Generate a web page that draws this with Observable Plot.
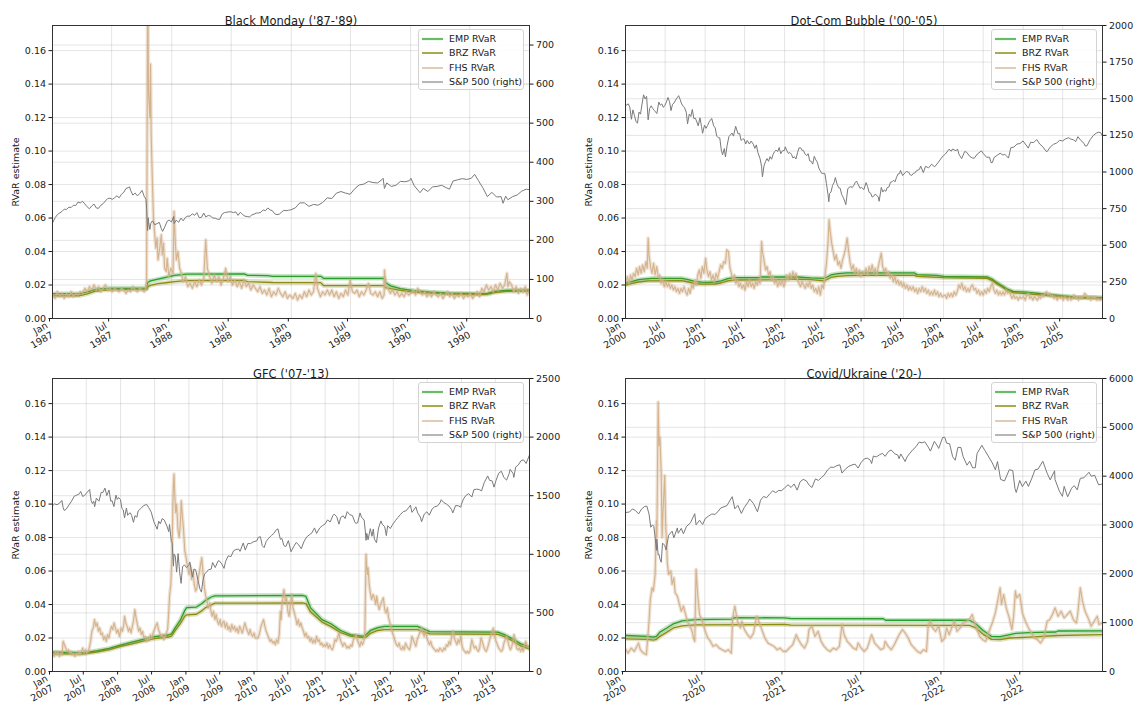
<!DOCTYPE html>
<html><head><meta charset="utf-8">
<script src="https://cdn.jsdelivr.net/npm/d3@7"></script>
<script src="https://cdn.jsdelivr.net/npm/@observablehq/plot@0.6"></script>
<style>
body{margin:0;background:#fff;}
#root{position:relative;width:1133px;height:709px;overflow:hidden;font-family:"DejaVu Sans",sans-serif;color:#1a1a1a;}
.panel{position:absolute;}
.legend{position:absolute;background:rgba(255,255,255,0.85);border:1px solid #d3d3d3;border-radius:3px;box-sizing:border-box;font-size:9.5px;}
.legend .row{position:absolute;left:0;height:12px;line-height:12px;white-space:nowrap;}
.legend svg{position:absolute;left:3px;top:1px;}
.legend span{position:absolute;left:30px;top:0;}
</style></head><body><div id="root"></div>
<script>
// ---------- shared ----------
const YMAX = 0.175;
const leftTicks = [0, 0.02, 0.04, 0.06, 0.08, 0.10, 0.12, 0.14, 0.16];
const monthNames = {0: "Jan", 6: "Jul"};
const seriesNames = ["EMP RVaR", "BRZ RVaR", "FHS RVaR", "S&P 500 (right)"];
const colors = {emp: "#2a9d2a", brz: "#8c8c12", fhs: "#d2b08a", spx: "#7a7a7a"};

// ---------- Panel 1: Black Monday ----------
const p1Title = "Black Monday ('87-'89)";
const p1RightTicks = [0,100,200,300,400,500,600,700];
const p1Spx = [["1987-01-02",246],["1987-01-09",258],["1987-01-16",266],["1987-01-23",270],["1987-01-30",274],["1987-02-06",280],["1987-02-13",279],["1987-02-20",285],["1987-02-27",284],["1987-03-06",290],["1987-03-13",289],["1987-03-20",298],["1987-03-27",296],["1987-04-03",300],["1987-04-10",293],["1987-04-17",286],["1987-04-24",281],["1987-05-01",288],["1987-05-08",293],["1987-05-15",283],["1987-05-22",282],["1987-05-29",290],["1987-06-05",294],["1987-06-12",301],["1987-06-19",307],["1987-06-26",308],["1987-07-03",305],["1987-07-10",309],["1987-07-17",314],["1987-07-24",309],["1987-07-31",318],["1987-08-07",323],["1987-08-14",333],["1987-08-21",335],["1987-08-25",337],["1987-08-28",328],["1987-09-04",316],["1987-09-11",321],["1987-09-18",314],["1987-09-25",320],["1987-10-02",328],["1987-10-09",312],["1987-10-14",305],["1987-10-16",282],["1987-10-19",225],["1987-10-20",236],["1987-10-21",258],["1987-10-22",248],["1987-10-26",228],["1987-10-29",244],["1987-11-03",250],["1987-11-10",240],["1987-11-17",243],["1987-11-24",246],["1987-11-30",230],["1987-12-04",223],["1987-12-11",235],["1987-12-18",249],["1987-12-24",252],["1987-12-31",247],["1988-01-07",261],["1988-01-08",243],["1988-01-15",252],["1988-01-22",246],["1988-01-29",257],["1988-02-05",250],["1988-02-12",259],["1988-02-19",262],["1988-02-26",262],["1988-03-04",268],["1988-03-11",264],["1988-03-18",271],["1988-03-25",258],["1988-04-01",259],["1988-04-08",270],["1988-04-14",260],["1988-04-22",264],["1988-04-29",262],["1988-05-06",257],["1988-05-13",257],["1988-05-20",254],["1988-05-27",254],["1988-06-03",267],["1988-06-10",271],["1988-06-17",272],["1988-06-24",273],["1988-07-01",273],["1988-07-08",271],["1988-07-15",273],["1988-07-22",264],["1988-07-29",272],["1988-08-05",266],["1988-08-12",262],["1988-08-19",261],["1988-08-26",260],["1988-09-02",265],["1988-09-09",267],["1988-09-16",270],["1988-09-23",270],["1988-09-30",272],["1988-10-07",278],["1988-10-14",276],["1988-10-21",283],["1988-10-28",278],["1988-11-04",276],["1988-11-11",268],["1988-11-18",266],["1988-11-25",267],["1988-12-02",272],["1988-12-09",277],["1988-12-16",276],["1988-12-23",277],["1988-12-30",278],["1989-01-13",283],["1989-01-27",296],["1989-02-10",296],["1989-02-24",287],["1989-03-10",292],["1989-03-24",290],["1989-04-07",297],["1989-04-21",309],["1989-05-05",307],["1989-05-19",321],["1989-06-02",325],["1989-06-16",321],["1989-06-30",318],["1989-07-14",332],["1989-07-28",342],["1989-08-11",344],["1989-08-25",351],["1989-09-08",348],["1989-09-22",347],["1989-10-06",356],["1989-10-09",359],["1989-10-13",333],["1989-10-20",347],["1989-11-03",338],["1989-11-17",341],["1989-12-01",351],["1989-12-15",350],["1989-12-29",353],["1990-01-02",359],["1990-01-12",340],["1990-01-26",326],["1990-01-30",322],["1990-02-09",333],["1990-02-23",325],["1990-03-09",337],["1990-03-23",338],["1990-04-06",341],["1990-04-20",335],["1990-04-30",331],["1990-05-11",352],["1990-05-25",355],["1990-06-08",358],["1990-06-22",356],["1990-07-06",359],["1990-07-16",369],["1990-07-27",354],["1990-08-03",344],["1990-08-10",335],["1990-08-24",312],["1990-09-07",323],["1990-09-21",311],["1990-10-05",312],["1990-10-11",295],["1990-10-19",313],["1990-10-26",304],["1990-11-09",312],["1990-11-23",316],["1990-12-07",326],["1990-12-21",331],["1990-12-31",330]];
const p1Fhs = [["1987-01-02",0.014],["1987-01-09",0.012],["1987-01-16",0.016],["1987-01-23",0.013],["1987-01-30",0.015],["1987-02-06",0.012],["1987-02-13",0.015],["1987-02-20",0.013],["1987-02-27",0.016],["1987-03-06",0.013],["1987-03-13",0.015],["1987-03-20",0.014],["1987-03-27",0.016],["1987-04-03",0.015],["1987-04-10",0.018],["1987-04-17",0.016],["1987-04-24",0.019],["1987-05-01",0.017],["1987-05-08",0.020],["1987-05-15",0.017],["1987-05-22",0.019],["1987-05-29",0.016],["1987-06-05",0.018],["1987-06-12",0.020],["1987-06-19",0.017],["1987-06-26",0.018],["1987-07-03",0.016],["1987-07-10",0.018],["1987-07-17",0.017],["1987-07-24",0.016],["1987-07-31",0.018],["1987-08-07",0.017],["1987-08-14",0.015],["1987-08-21",0.017],["1987-08-28",0.016],["1987-09-04",0.019],["1987-09-11",0.017],["1987-09-18",0.016],["1987-09-25",0.018],["1987-10-02",0.017],["1987-10-09",0.016],["1987-10-14",0.018],["1987-10-16",0.022],["1987-10-19",0.19],["1987-10-20",0.19],["1987-10-22",0.135],["1987-10-26",0.12],["1987-10-28",0.152],["1987-10-30",0.11],["1987-11-03",0.08],["1987-11-06",0.06],["1987-11-10",0.05],["1987-11-13",0.042],["1987-11-17",0.048],["1987-11-20",0.035],["1987-11-24",0.04],["1987-11-30",0.05],["1987-12-03",0.038],["1987-12-07",0.045],["1987-12-10",0.03],["1987-12-15",0.028],["1987-12-18",0.036],["1987-12-23",0.025],["1987-12-29",0.03],["1988-01-05",0.027],["1988-01-08",0.064],["1988-01-12",0.045],["1988-01-15",0.035],["1988-01-20",0.04],["1988-01-25",0.03],["1988-01-29",0.028],["1988-02-05",0.022],["1988-02-12",0.025],["1988-02-19",0.019],["1988-02-26",0.021],["1988-03-04",0.018],["1988-03-11",0.022],["1988-03-18",0.019],["1988-03-25",0.023],["1988-04-01",0.02],["1988-04-08",0.024],["1988-04-14",0.047],["1988-04-19",0.03],["1988-04-26",0.025],["1988-05-03",0.021],["1988-05-10",0.026],["1988-05-17",0.022],["1988-05-24",0.025],["1988-05-31",0.02],["1988-06-07",0.024],["1988-06-14",0.03],["1988-06-21",0.022],["1988-06-28",0.025],["1988-07-05",0.02],["1988-07-12",0.023],["1988-07-19",0.019],["1988-07-26",0.022],["1988-08-02",0.018],["1988-08-09",0.023],["1988-08-16",0.019],["1988-08-23",0.021],["1988-08-30",0.017],["1988-09-06",0.02],["1988-09-13",0.018],["1988-09-20",0.016],["1988-09-27",0.019],["1988-10-04",0.015],["1988-10-11",0.017],["1988-10-18",0.014],["1988-10-25",0.018],["1988-11-01",0.013],["1988-11-08",0.016],["1988-11-15",0.014],["1988-11-22",0.018],["1988-11-29",0.015],["1988-12-06",0.013],["1988-12-13",0.016],["1988-12-20",0.012],["1988-12-27",0.014],["1989-01-06",0.012],["1989-01-13",0.015],["1989-01-20",0.011],["1989-01-27",0.014],["1989-02-03",0.012],["1989-02-10",0.016],["1989-02-17",0.013],["1989-02-24",0.017],["1989-03-03",0.014],["1989-03-10",0.016],["1989-03-17",0.027],["1989-03-22",0.018],["1989-03-31",0.013],["1989-04-07",0.016],["1989-04-14",0.014],["1989-04-21",0.017],["1989-04-28",0.014],["1989-05-05",0.017],["1989-05-12",0.013],["1989-05-19",0.016],["1989-05-26",0.012],["1989-06-02",0.015],["1989-06-09",0.013],["1989-06-16",0.017],["1989-06-23",0.014],["1989-06-30",0.023],["1989-07-07",0.016],["1989-07-14",0.015],["1989-07-21",0.017],["1989-07-28",0.013],["1989-08-04",0.016],["1989-08-11",0.014],["1989-08-18",0.017],["1989-08-25",0.021],["1989-09-01",0.015],["1989-09-08",0.014],["1989-09-15",0.016],["1989-09-22",0.013],["1989-09-29",0.016],["1989-10-06",0.012],["1989-10-12",0.014],["1989-10-13",0.029],["1989-10-17",0.02],["1989-10-24",0.018],["1989-10-31",0.015],["1989-11-07",0.017],["1989-11-14",0.014],["1989-11-21",0.016],["1989-11-28",0.013],["1989-12-05",0.015],["1989-12-12",0.013],["1989-12-19",0.016],["1989-12-26",0.014],["1990-01-02",0.015],["1990-01-09",0.017],["1990-01-16",0.014],["1990-01-23",0.018],["1990-01-30",0.016],["1990-02-06",0.014],["1990-02-13",0.016],["1990-02-20",0.013],["1990-02-27",0.015],["1990-03-06",0.013],["1990-03-13",0.016],["1990-03-20",0.014],["1990-03-27",0.013],["1990-04-03",0.015],["1990-04-10",0.012],["1990-04-17",0.014],["1990-04-24",0.016],["1990-05-01",0.013],["1990-05-08",0.015],["1990-05-15",0.012],["1990-05-22",0.014],["1990-05-29",0.013],["1990-06-05",0.015],["1990-06-12",0.012],["1990-06-19",0.014],["1990-06-26",0.013],["1990-07-03",0.015],["1990-07-10",0.012],["1990-07-17",0.014],["1990-07-24",0.016],["1990-07-31",0.013],["1990-08-07",0.018],["1990-08-14",0.016],["1990-08-21",0.02],["1990-08-28",0.017],["1990-09-04",0.019],["1990-09-11",0.016],["1990-09-18",0.02],["1990-09-25",0.017],["1990-10-02",0.021],["1990-10-09",0.018],["1990-10-16",0.02],["1990-10-23",0.027],["1990-10-26",0.019],["1990-10-30",0.022],["1990-11-06",0.02],["1990-11-13",0.016],["1990-11-20",0.019],["1990-11-27",0.015],["1990-12-04",0.018],["1990-12-11",0.016],["1990-12-18",0.019],["1990-12-24",0.014],["1990-12-31",0.017]];
const p1Emp = [["1987-01-02",0.0148],["1987-03-25",0.0148],["1987-04-15",0.0158],["1987-05-10",0.0172],["1987-06-01",0.0178],["1987-07-01",0.018],["1987-10-16",0.0182],["1987-10-19",0.0215],["1987-10-28",0.0225],["1987-11-20",0.0235],["1987-12-20",0.0248],["1988-01-10",0.0258],["1988-02-15",0.0265],["1988-08-10",0.0266],["1988-08-20",0.0258],["1988-10-20",0.0256],["1988-11-05",0.0252],["1989-04-01",0.0252],["1989-04-10",0.0240],["1989-10-12",0.0240],["1989-10-16",0.0215],["1989-11-01",0.0195],["1989-12-01",0.0178],["1990-01-10",0.0166],["1990-03-01",0.0158],["1990-05-01",0.0152],["1990-08-01",0.0148],["1990-08-25",0.015],["1990-09-15",0.0162],["1990-10-20",0.0168],["1990-12-31",0.017]];
const p1Brz = [["1987-01-02",0.0136],["1987-03-25",0.0136],["1987-04-15",0.0146],["1987-05-10",0.0162],["1987-06-01",0.0168],["1987-07-01",0.0172],["1987-10-16",0.0174],["1987-10-19",0.0188],["1987-10-28",0.0198],["1987-11-20",0.0208],["1987-12-20",0.0215],["1988-01-10",0.022],["1988-02-15",0.0226],["1988-08-10",0.0227],["1988-08-20",0.022],["1988-11-05",0.0215],["1989-04-01",0.0214],["1989-04-10",0.0196],["1989-10-12",0.0196],["1989-10-16",0.0185],["1989-11-01",0.0178],["1989-12-01",0.0168],["1990-01-10",0.0158],["1990-03-01",0.0152],["1990-05-01",0.0146],["1990-08-01",0.0143],["1990-08-25",0.0145],["1990-09-15",0.0155],["1990-10-20",0.0162],["1990-12-31",0.0163]];

// ---------- Panel 2: Dot-Com ----------
const p2Title = "Dot-Com Bubble ('00-'05)";
const p2RightTicks = [0,250,500,750,1000,1250,1500,1750,2000];
const p2Spx = [["2000-01-03",1455],["2000-01-14",1465],["2000-01-21",1441],["2000-01-28",1360],["2000-02-04",1424],["2000-02-11",1387],["2000-02-18",1346],["2000-02-25",1333],["2000-03-03",1409],["2000-03-10",1395],["2000-03-17",1464],["2000-03-24",1527],["2000-03-31",1499],["2000-04-07",1516],["2000-04-14",1356],["2000-04-21",1434],["2000-04-28",1452],["2000-05-05",1433],["2000-05-12",1421],["2000-05-24",1399],["2000-06-02",1477],["2000-06-09",1456],["2000-06-16",1465],["2000-06-23",1441],["2000-06-30",1455],["2000-07-07",1478],["2000-07-14",1509],["2000-07-21",1481],["2000-07-28",1419],["2000-08-04",1462],["2000-08-11",1471],["2000-08-18",1491],["2000-08-25",1506],["2000-09-01",1521],["2000-09-08",1495],["2000-09-15",1465],["2000-09-22",1449],["2000-09-29",1437],["2000-10-06",1408],["2000-10-12",1329],["2000-10-20",1396],["2000-10-27",1379],["2000-11-03",1427],["2000-11-10",1365],["2000-11-17",1367],["2000-11-24",1341],["2000-11-30",1315],["2000-12-08",1370],["2000-12-15",1312],["2000-12-20",1264],["2000-12-29",1320],["2001-01-05",1298],["2001-01-12",1318],["2001-01-19",1342],["2001-01-31",1366],["2001-02-09",1315],["2001-02-16",1301],["2001-02-23",1245],["2001-03-02",1234],["2001-03-09",1233],["2001-03-16",1150],["2001-03-22",1117],["2001-03-30",1160],["2001-04-04",1103],["2001-04-12",1183],["2001-04-20",1242],["2001-04-27",1253],["2001-05-04",1266],["2001-05-11",1245],["2001-05-21",1312],["2001-06-01",1260],["2001-06-08",1264],["2001-06-15",1215],["2001-06-22",1225],["2001-06-29",1224],["2001-07-06",1191],["2001-07-13",1215],["2001-07-23",1191],["2001-07-31",1211],["2001-08-10",1190],["2001-08-17",1161],["2001-08-24",1185],["2001-08-31",1134],["2001-09-10",1092],["2001-09-17",1039],["2001-09-21",966],["2001-09-28",1041],["2001-10-05",1071],["2001-10-12",1092],["2001-10-19",1073],["2001-10-26",1105],["2001-11-02",1087],["2001-11-09",1120],["2001-11-16",1139],["2001-11-23",1150],["2001-11-30",1139],["2001-12-07",1167],["2001-12-14",1124],["2001-12-21",1144],["2001-12-31",1148],["2002-01-04",1172],["2002-01-11",1146],["2002-01-18",1127],["2002-01-25",1133],["2002-02-01",1122],["2002-02-08",1096],["2002-02-15",1104],["2002-02-22",1089],["2002-03-01",1131],["2002-03-08",1164],["2002-03-15",1166],["2002-03-22",1148],["2002-03-28",1147],["2002-04-05",1122],["2002-04-12",1111],["2002-04-19",1125],["2002-04-26",1076],["2002-05-03",1073],["2002-05-10",1054],["2002-05-17",1107],["2002-05-24",1083],["2002-05-31",1067],["2002-06-07",1027],["2002-06-14",1007],["2002-06-21",990],["2002-06-28",990],["2002-07-05",989],["2002-07-12",921],["2002-07-19",847],["2002-07-23",797],["2002-07-26",852],["2002-08-02",864],["2002-08-09",908],["2002-08-16",928],["2002-08-22",962],["2002-08-30",916],["2002-09-06",893],["2002-09-13",889],["2002-09-20",846],["2002-09-27",827],["2002-10-04",800],["2002-10-09",777],["2002-10-18",884],["2002-10-25",897],["2002-11-01",900],["2002-11-08",894],["2002-11-15",910],["2002-11-22",930],["2002-11-27",938],["2002-12-06",912],["2002-12-13",889],["2002-12-20",895],["2002-12-31",880],["2003-01-10",928],["2003-01-17",901],["2003-01-24",861],["2003-01-31",856],["2003-02-07",829],["2003-02-14",835],["2003-02-21",849],["2003-02-28",841],["2003-03-07",829],["2003-03-11",800],["2003-03-21",895],["2003-03-28",863],["2003-04-04",878],["2003-04-11",868],["2003-04-17",893],["2003-04-25",898],["2003-05-02",930],["2003-05-09",933],["2003-05-16",944],["2003-05-23",933],["2003-05-30",964],["2003-06-06",987],["2003-06-13",988],["2003-06-17",1011],["2003-06-27",976],["2003-07-03",986],["2003-07-14",1004],["2003-07-25",998],["2003-08-01",980],["2003-08-08",977],["2003-08-15",990],["2003-08-22",993],["2003-08-29",1008],["2003-09-12",1018],["2003-09-18",1040],["2003-09-30",996],["2003-10-10",1039],["2003-10-24",1028],["2003-11-07",1053],["2003-11-21",1035],["2003-12-05",1061],["2003-12-19",1089],["2003-12-31",1112],["2004-01-09",1122],["2004-01-26",1155],["2004-02-06",1142],["2004-02-11",1157],["2004-02-27",1145],["2004-03-05",1157],["2004-03-12",1120],["2004-03-24",1091],["2004-04-07",1140],["2004-04-16",1135],["2004-04-30",1107],["2004-05-12",1096],["2004-05-21",1094],["2004-06-04",1123],["2004-06-23",1144],["2004-07-02",1125],["2004-07-16",1101],["2004-07-30",1101],["2004-08-06",1064],["2004-08-12",1064],["2004-08-20",1099],["2004-09-03",1114],["2004-09-17",1128],["2004-09-30",1115],["2004-10-08",1122],["2004-10-25",1095],["2004-11-05",1166],["2004-11-19",1170],["2004-12-03",1191],["2004-12-17",1194],["2004-12-31",1212],["2005-01-14",1184],["2005-01-24",1163],["2005-02-04",1203],["2005-02-18",1201],["2005-03-04",1222],["2005-03-18",1190],["2005-04-01",1172],["2005-04-15",1143],["2005-04-20",1138],["2005-05-06",1172],["2005-05-20",1189],["2005-06-03",1197],["2005-06-17",1216],["2005-07-01",1212],["2005-07-15",1227],["2005-07-29",1234],["2005-08-05",1226],["2005-08-19",1220],["2005-08-30",1208],["2005-09-09",1241],["2005-09-23",1215],["2005-10-07",1196],["2005-10-13",1177],["2005-10-21",1179],["2005-11-04",1220],["2005-11-18",1248],["2005-12-02",1265],["2005-12-14",1272],["2005-12-23",1268],["2005-12-30",1248]];
const p2Fhs = [["2000-01-03",0.022],["2000-01-10",0.025],["2000-01-17",0.021],["2000-01-24",0.026],["2000-01-31",0.023],["2000-02-07",0.027],["2000-02-14",0.025],["2000-02-21",0.03],["2000-02-28",0.026],["2000-03-06",0.031],["2000-03-13",0.027],["2000-03-20",0.032],["2000-03-27",0.028],["2000-04-04",0.034],["2000-04-10",0.03],["2000-04-14",0.048],["2000-04-18",0.038],["2000-04-25",0.031],["2000-05-02",0.027],["2000-05-09",0.033],["2000-05-16",0.026],["2000-05-23",0.031],["2000-05-30",0.025],["2000-06-06",0.026],["2000-06-13",0.021],["2000-06-20",0.023],["2000-06-27",0.019],["2000-07-04",0.022],["2000-07-11",0.019],["2000-07-18",0.021],["2000-07-25",0.018],["2000-08-01",0.02],["2000-08-08",0.017],["2000-08-15",0.019],["2000-08-22",0.016],["2000-08-29",0.018],["2000-09-05",0.015],["2000-09-12",0.018],["2000-09-19",0.016],["2000-09-26",0.019],["2000-10-03",0.016],["2000-10-10",0.014],["2000-10-17",0.018],["2000-10-24",0.015],["2000-10-31",0.02],["2000-11-07",0.018],["2000-11-14",0.023],["2000-11-21",0.02],["2000-11-28",0.026],["2000-12-05",0.029],["2000-12-12",0.024],["2000-12-19",0.031],["2000-12-26",0.027],["2001-01-03",0.036],["2001-01-09",0.029],["2001-01-16",0.025],["2001-01-23",0.028],["2001-01-30",0.023],["2001-02-06",0.026],["2001-02-13",0.022],["2001-02-20",0.027],["2001-02-27",0.024],["2001-03-06",0.028],["2001-03-13",0.032],["2001-03-20",0.03],["2001-03-27",0.034],["2001-04-04",0.033],["2001-04-10",0.041],["2001-04-18",0.04],["2001-04-24",0.031],["2001-05-01",0.027],["2001-05-08",0.023],["2001-05-15",0.026],["2001-05-22",0.021],["2001-05-29",0.023],["2001-06-05",0.019],["2001-06-12",0.021],["2001-06-19",0.018],["2001-06-26",0.02],["2001-07-03",0.017],["2001-07-10",0.022],["2001-07-17",0.019],["2001-07-24",0.023],["2001-07-31",0.019],["2001-08-07",0.021],["2001-08-14",0.018],["2001-08-21",0.022],["2001-08-28",0.02],["2001-09-04",0.023],["2001-09-10",0.021],["2001-09-17",0.046],["2001-09-21",0.04],["2001-09-28",0.035],["2001-10-05",0.029],["2001-10-12",0.031],["2001-10-19",0.026],["2001-10-26",0.028],["2001-11-02",0.023],["2001-11-09",0.025],["2001-11-16",0.021],["2001-11-23",0.023],["2001-11-30",0.019],["2001-12-07",0.022],["2001-12-14",0.02],["2001-12-21",0.023],["2001-12-28",0.019],["2002-01-04",0.022],["2002-01-11",0.026],["2002-01-18",0.023],["2002-01-25",0.027],["2002-02-01",0.024],["2002-02-08",0.028],["2002-02-15",0.025],["2002-02-22",0.027],["2002-03-01",0.023],["2002-03-08",0.021],["2002-03-15",0.019],["2002-03-22",0.022],["2002-03-29",0.02],["2002-04-05",0.018],["2002-04-12",0.021],["2002-04-19",0.019],["2002-04-26",0.022],["2002-05-03",0.018],["2002-05-10",0.02],["2002-05-17",0.016],["2002-05-24",0.018],["2002-05-31",0.015],["2002-06-07",0.019],["2002-06-14",0.014],["2002-06-21",0.02],["2002-06-28",0.018],["2002-07-05",0.025],["2002-07-12",0.033],["2002-07-19",0.045],["2002-07-24",0.059],["2002-07-29",0.052],["2002-08-05",0.045],["2002-08-12",0.04],["2002-08-19",0.035],["2002-08-26",0.038],["2002-09-03",0.032],["2002-09-10",0.034],["2002-09-17",0.03],["2002-09-24",0.035],["2002-10-01",0.038],["2002-10-08",0.042],["2002-10-15",0.048],["2002-10-22",0.04],["2002-10-29",0.033],["2002-11-05",0.029],["2002-11-12",0.032],["2002-11-19",0.027],["2002-11-26",0.03],["2002-12-03",0.026],["2002-12-10",0.029],["2002-12-17",0.025],["2002-12-24",0.028],["2003-01-03",0.027],["2003-01-10",0.03],["2003-01-17",0.026],["2003-01-24",0.031],["2003-01-31",0.028],["2003-02-07",0.032],["2003-02-14",0.027],["2003-02-21",0.03],["2003-02-28",0.026],["2003-03-07",0.031],["2003-03-14",0.035],["2003-03-21",0.039],["2003-03-27",0.031],["2003-04-03",0.028],["2003-04-10",0.03],["2003-04-17",0.026],["2003-04-24",0.028],["2003-05-01",0.024],["2003-05-08",0.026],["2003-05-15",0.022],["2003-05-22",0.025],["2003-05-29",0.021],["2003-06-05",0.023],["2003-06-12",0.02],["2003-06-19",0.022],["2003-06-26",0.019],["2003-07-03",0.021],["2003-07-10",0.018],["2003-07-17",0.02],["2003-07-24",0.017],["2003-07-31",0.019],["2003-08-07",0.017],["2003-08-14",0.019],["2003-08-21",0.016],["2003-08-28",0.018],["2003-09-04",0.015],["2003-09-11",0.018],["2003-09-18",0.016],["2003-09-25",0.019],["2003-10-02",0.016],["2003-10-09",0.018],["2003-10-16",0.015],["2003-10-23",0.017],["2003-10-30",0.014],["2003-11-06",0.016],["2003-11-13",0.014],["2003-11-20",0.017],["2003-11-27",0.014],["2003-12-04",0.016],["2003-12-11",0.013],["2003-12-18",0.015],["2003-12-25",0.013],["2004-01-08",0.014],["2004-01-15",0.012],["2004-01-22",0.015],["2004-01-29",0.013],["2004-02-05",0.015],["2004-02-12",0.013],["2004-02-19",0.016],["2004-02-26",0.014],["2004-03-04",0.016],["2004-03-11",0.02],["2004-03-18",0.018],["2004-03-25",0.021],["2004-04-01",0.017],["2004-04-08",0.019],["2004-04-15",0.016],["2004-04-22",0.018],["2004-04-29",0.016],["2004-05-06",0.019],["2004-05-13",0.02],["2004-05-20",0.017],["2004-05-27",0.018],["2004-06-03",0.015],["2004-06-10",0.017],["2004-06-17",0.014],["2004-06-24",0.016],["2004-07-01",0.014],["2004-07-08",0.017],["2004-07-15",0.015],["2004-07-22",0.018],["2004-07-29",0.016],["2004-08-05",0.019],["2004-08-12",0.021],["2004-08-19",0.017],["2004-08-26",0.015],["2004-09-02",0.017],["2004-09-09",0.014],["2004-09-16",0.016],["2004-09-23",0.014],["2004-09-30",0.016],["2004-10-07",0.014],["2004-10-14",0.017],["2004-10-21",0.015],["2004-10-28",0.016],["2004-11-04",0.014],["2004-11-11",0.012],["2004-11-18",0.014],["2004-11-25",0.012],["2004-12-02",0.013],["2004-12-09",0.011],["2004-12-16",0.013],["2004-12-23",0.012],["2005-01-03",0.013],["2005-01-10",0.011],["2005-01-17",0.014],["2005-01-24",0.015],["2005-01-31",0.012],["2005-02-07",0.013],["2005-02-14",0.011],["2005-02-21",0.013],["2005-02-28",0.012],["2005-03-07",0.011],["2005-03-14",0.013],["2005-03-21",0.012],["2005-03-28",0.014],["2005-04-04",0.013],["2005-04-11",0.015],["2005-04-18",0.016],["2005-04-25",0.014],["2005-05-02",0.015],["2005-05-09",0.013],["2005-05-16",0.014],["2005-05-23",0.012],["2005-05-30",0.013],["2005-06-06",0.011],["2005-06-13",0.013],["2005-06-20",0.012],["2005-06-27",0.013],["2005-07-04",0.011],["2005-07-11",0.013],["2005-07-18",0.012],["2005-07-25",0.011],["2005-08-01",0.013],["2005-08-08",0.011],["2005-08-15",0.012],["2005-08-22",0.014],["2005-08-29",0.012],["2005-09-05",0.013],["2005-09-12",0.011],["2005-09-19",0.013],["2005-09-26",0.012],["2005-10-03",0.013],["2005-10-10",0.015],["2005-10-17",0.014],["2005-10-24",0.012],["2005-10-31",0.013],["2005-11-07",0.011],["2005-11-14",0.013],["2005-11-21",0.012],["2005-11-28",0.013],["2005-12-05",0.011],["2005-12-12",0.012],["2005-12-19",0.011],["2005-12-30",0.012]];
const p2Emp = [["2000-01-03",0.0212],["2000-02-01",0.0222],["2000-03-01",0.0232],["2000-04-15",0.0238],["2000-05-01",0.024],["2000-09-15",0.024],["2000-10-15",0.0232],["2000-11-15",0.0222],["2000-12-15",0.0217],["2001-01-15",0.0216],["2001-02-15",0.0218],["2001-03-15",0.0225],["2001-04-15",0.0238],["2001-05-15",0.0244],["2001-09-10",0.0245],["2001-09-17",0.0248],["2002-01-15",0.0249],["2002-03-01",0.0248],["2002-05-01",0.0243],["2002-06-30",0.024],["2002-07-15",0.0248],["2002-08-01",0.026],["2002-09-01",0.0268],["2002-10-15",0.0272],["2003-01-15",0.0273],["2003-08-20",0.0272],["2003-09-01",0.0262],["2003-12-01",0.0258],["2004-01-01",0.0252],["2004-07-20",0.0248],["2004-08-10",0.0235],["2004-09-01",0.0215],["2004-09-25",0.0195],["2004-10-20",0.0175],["2004-11-15",0.0162],["2005-01-15",0.0157],["2005-04-01",0.0147],["2005-07-01",0.0135],["2005-09-01",0.0128],["2005-12-30",0.0125]];
const p2Brz = [["2000-01-03",0.0200],["2000-02-01",0.021],["2000-03-01",0.0218],["2000-04-15",0.0225],["2000-09-15",0.0226],["2000-10-15",0.0218],["2000-11-15",0.0208],["2000-12-15",0.0205],["2001-02-15",0.0206],["2001-03-15",0.0212],["2001-04-15",0.0225],["2001-05-15",0.023],["2001-12-31",0.0232],["2002-01-15",0.0236],["2002-05-01",0.0232],["2002-06-30",0.0225],["2002-07-15",0.0233],["2002-08-01",0.0245],["2002-09-01",0.0252],["2002-10-15",0.0256],["2003-01-15",0.0258],["2003-08-20",0.0258],["2003-09-01",0.0252],["2004-01-01",0.0244],["2004-07-20",0.024],["2004-08-10",0.0228],["2004-09-01",0.0208],["2004-09-25",0.019],["2004-10-20",0.0168],["2004-11-15",0.0155],["2005-01-15",0.0148],["2005-04-01",0.014],["2005-07-01",0.013],["2005-09-01",0.0124],["2005-12-30",0.0121]];

// ---------- Panel 3: GFC ----------
const p3Title = "GFC ('07-'13)";
const p3RightTicks = [0,500,1000,1500,2000,2500];
const p3Spx = [["2007-01-03",1417],["2007-01-12",1430],["2007-01-26",1423],["2007-02-09",1438],["2007-02-20",1460],["2007-02-27",1399],["2007-03-05",1374],["2007-03-16",1386],["2007-03-30",1421],["2007-04-13",1453],["2007-04-27",1495],["2007-05-11",1505],["2007-05-25",1516],["2007-06-01",1536],["2007-06-12",1493],["2007-06-22",1503],["2007-07-06",1530],["2007-07-19",1553],["2007-07-27",1459],["2007-08-03",1433],["2007-08-10",1453],["2007-08-15",1406],["2007-08-24",1479],["2007-09-07",1453],["2007-09-19",1529],["2007-09-28",1527],["2007-10-09",1565],["2007-10-19",1501],["2007-10-31",1549],["2007-11-09",1453],["2007-11-16",1458],["2007-11-26",1407],["2007-12-07",1505],["2007-12-14",1468],["2007-12-21",1484],["2007-12-31",1468],["2008-01-08",1390],["2008-01-15",1380],["2008-01-22",1310],["2008-02-01",1395],["2008-02-08",1332],["2008-02-15",1349],["2008-02-22",1353],["2008-02-29",1331],["2008-03-10",1273],["2008-03-18",1330],["2008-03-28",1316],["2008-04-04",1370],["2008-04-18",1390],["2008-05-02",1414],["2008-05-19",1426],["2008-05-30",1400],["2008-06-13",1360],["2008-06-27",1278],["2008-07-15",1214],["2008-07-23",1282],["2008-08-01",1260],["2008-08-11",1305],["2008-08-22",1292],["2008-09-05",1242],["2008-09-15",1193],["2008-09-19",1255],["2008-09-29",1106],["2008-10-03",1099],["2008-10-10",899],["2008-10-13",1003],["2008-10-20",985],["2008-10-27",848],["2008-11-04",1006],["2008-11-12",852],["2008-11-20",752],["2008-11-28",896],["2008-12-08",909],["2008-12-19",887],["2008-12-31",903],["2009-01-06",935],["2009-01-20",805],["2009-01-28",874],["2009-02-06",869],["2009-02-17",789],["2009-03-02",700],["2009-03-09",677],["2009-03-17",778],["2009-03-26",832],["2009-04-03",843],["2009-04-17",870],["2009-04-30",873],["2009-05-08",930],["2009-05-22",887],["2009-06-05",940],["2009-06-12",946],["2009-06-26",918],["2009-07-08",880],["2009-07-17",941],["2009-07-31",987],["2009-08-14",980],["2009-08-28",1029],["2009-09-11",1042],["2009-09-25",1044],["2009-10-02",1025],["2009-10-19",1097],["2009-10-30",1036],["2009-11-13",1093],["2009-11-27",1091],["2009-12-11",1106],["2009-12-31",1115],["2010-01-08",1145],["2010-01-19",1150],["2010-01-29",1074],["2010-02-08",1057],["2010-02-19",1109],["2010-03-05",1138],["2010-03-19",1160],["2010-04-01",1178],["2010-04-15",1211],["2010-04-23",1217],["2010-05-06",1128],["2010-05-14",1136],["2010-05-25",1074],["2010-06-04",1065],["2010-06-18",1117],["2010-07-02",1022],["2010-07-16",1065],["2010-07-30",1101],["2010-08-13",1079],["2010-08-26",1047],["2010-09-10",1110],["2010-09-24",1148],["2010-10-08",1166],["2010-10-22",1183],["2010-11-05",1225],["2010-11-16",1178],["2010-12-03",1225],["2010-12-17",1244],["2010-12-31",1258],["2011-01-14",1293],["2011-01-28",1276],["2011-02-11",1329],["2011-02-18",1343],["2011-03-04",1321],["2011-03-16",1257],["2011-03-25",1314],["2011-04-08",1328],["2011-04-18",1305],["2011-04-29",1364],["2011-05-13",1338],["2011-05-27",1331],["2011-06-10",1271],["2011-06-15",1265],["2011-06-24",1268],["2011-07-07",1353],["2011-07-15",1316],["2011-07-29",1292],["2011-08-04",1200],["2011-08-08",1119],["2011-08-12",1179],["2011-08-19",1124],["2011-08-31",1219],["2011-09-09",1154],["2011-09-16",1216],["2011-09-22",1129],["2011-10-03",1099],["2011-10-14",1225],["2011-10-27",1285],["2011-11-04",1253],["2011-11-16",1237],["2011-11-25",1159],["2011-12-02",1244],["2011-12-16",1220],["2011-12-30",1258],["2012-01-13",1289],["2012-01-27",1316],["2012-02-10",1342],["2012-02-24",1365],["2012-03-09",1370],["2012-03-23",1397],["2012-04-02",1419],["2012-04-10",1358],["2012-04-20",1378],["2012-05-01",1405],["2012-05-11",1353],["2012-05-25",1318],["2012-06-01",1278],["2012-06-15",1343],["2012-06-29",1362],["2012-07-12",1334],["2012-07-27",1386],["2012-08-10",1406],["2012-08-24",1411],["2012-09-07",1438],["2012-09-14",1466],["2012-09-28",1441],["2012-10-12",1428],["2012-10-26",1411],["2012-11-09",1380],["2012-11-15",1353],["2012-11-30",1416],["2012-12-14",1414],["2012-12-28",1402],["2012-12-31",1426],["2013-01-11",1472],["2013-01-25",1503],["2013-02-08",1518],["2013-02-25",1488],["2013-03-08",1551],["2013-03-22",1556],["2013-04-05",1553],["2013-04-18",1541],["2013-05-03",1614],["2013-05-21",1669],["2013-05-31",1631],["2013-06-14",1626],["2013-06-24",1573],["2013-07-05",1632],["2013-07-19",1692],["2013-08-02",1709],["2013-08-16",1655],["2013-08-30",1633],["2013-09-13",1688],["2013-09-18",1725],["2013-10-04",1690],["2013-10-08",1656],["2013-10-18",1745],["2013-11-01",1762],["2013-11-15",1798],["2013-11-29",1806],["2013-12-13",1775],["2013-12-31",1848]];
const p3Fhs = [["2007-01-03",0.011],["2007-01-10",0.009],["2007-01-17",0.012],["2007-01-24",0.01],["2007-01-31",0.012],["2007-02-07",0.009],["2007-02-14",0.011],["2007-02-21",0.01],["2007-02-27",0.018],["2007-03-06",0.016],["2007-03-13",0.014],["2007-03-20",0.012],["2007-03-27",0.013],["2007-04-03",0.011],["2007-04-10",0.012],["2007-04-17",0.01],["2007-04-24",0.011],["2007-05-01",0.009],["2007-05-08",0.011],["2007-05-15",0.01],["2007-05-22",0.012],["2007-05-29",0.01],["2007-06-05",0.012],["2007-06-12",0.014],["2007-06-19",0.011],["2007-06-26",0.013],["2007-07-03",0.011],["2007-07-10",0.012],["2007-07-17",0.014],["2007-07-24",0.018],["2007-07-31",0.024],["2007-08-07",0.026],["2007-08-14",0.031],["2007-08-21",0.027],["2007-08-28",0.029],["2007-09-04",0.024],["2007-09-11",0.026],["2007-09-18",0.022],["2007-09-25",0.023],["2007-10-02",0.019],["2007-10-09",0.021],["2007-10-16",0.018],["2007-10-23",0.022],["2007-10-30",0.02],["2007-11-06",0.024],["2007-11-13",0.027],["2007-11-20",0.025],["2007-11-27",0.029],["2007-12-04",0.026],["2007-12-11",0.023],["2007-12-18",0.025],["2007-12-26",0.021],["2008-01-04",0.026],["2008-01-11",0.024],["2008-01-18",0.028],["2008-01-22",0.033],["2008-01-29",0.029],["2008-02-05",0.027],["2008-02-12",0.024],["2008-02-19",0.026],["2008-02-26",0.023],["2008-03-04",0.027],["2008-03-11",0.031],["2008-03-17",0.037],["2008-03-24",0.032],["2008-03-31",0.028],["2008-04-07",0.024],["2008-04-14",0.026],["2008-04-21",0.022],["2008-04-28",0.024],["2008-05-05",0.02],["2008-05-12",0.021],["2008-05-19",0.018],["2008-05-26",0.02],["2008-06-02",0.019],["2008-06-09",0.022],["2008-06-16",0.02],["2008-06-23",0.023],["2008-06-30",0.025],["2008-07-07",0.027],["2008-07-15",0.029],["2008-07-22",0.025],["2008-07-29",0.023],["2008-08-05",0.021],["2008-08-12",0.022],["2008-08-19",0.019],["2008-08-26",0.021],["2008-09-02",0.023],["2008-09-09",0.025],["2008-09-15",0.036],["2008-09-19",0.045],["2008-09-26",0.052],["2008-09-29",0.06],["2008-10-03",0.07],["2008-10-07",0.1],["2008-10-10",0.112],["2008-10-13",0.118],["2008-10-16",0.108],["2008-10-22",0.095],["2008-10-27",0.1],["2008-11-03",0.085],["2008-11-10",0.08],["2008-11-17",0.09],["2008-11-21",0.102],["2008-11-26",0.094],["2008-12-03",0.085],["2008-12-10",0.072],["2008-12-17",0.068],["2008-12-24",0.063],["2009-01-02",0.058],["2009-01-09",0.063],["2009-01-16",0.055],["2009-01-23",0.06],["2009-01-30",0.052],["2009-02-06",0.048],["2009-02-13",0.05],["2009-02-20",0.056],["2009-02-27",0.06],["2009-03-06",0.065],["2009-03-11",0.068],["2009-03-18",0.058],["2009-03-25",0.05],["2009-04-01",0.045],["2009-04-08",0.042],["2009-04-15",0.038],["2009-04-22",0.041],["2009-04-29",0.036],["2009-05-06",0.033],["2009-05-13",0.036],["2009-05-20",0.031],["2009-05-27",0.034],["2009-06-03",0.03],["2009-06-10",0.028],["2009-06-17",0.031],["2009-06-24",0.027],["2009-07-01",0.029],["2009-07-08",0.03],["2009-07-15",0.026],["2009-07-22",0.029],["2009-07-29",0.025],["2009-08-05",0.027],["2009-08-12",0.024],["2009-08-19",0.028],["2009-08-26",0.025],["2009-09-02",0.027],["2009-09-09",0.024],["2009-09-16",0.026],["2009-09-23",0.023],["2009-09-30",0.027],["2009-10-07",0.025],["2009-10-14",0.023],["2009-10-21",0.026],["2009-10-28",0.029],["2009-11-04",0.026],["2009-11-11",0.024],["2009-11-18",0.022],["2009-11-25",0.025],["2009-12-02",0.022],["2009-12-09",0.021],["2009-12-16",0.023],["2009-12-23",0.02],["2010-01-06",0.02],["2010-01-13",0.022],["2010-01-22",0.027],["2010-01-29",0.029],["2010-02-05",0.031],["2010-02-12",0.027],["2010-02-19",0.024],["2010-02-26",0.022],["2010-03-05",0.02],["2010-03-12",0.018],["2010-03-19",0.019],["2010-03-26",0.017],["2010-04-02",0.018],["2010-04-09",0.016],["2010-04-16",0.019],["2010-04-23",0.017],["2010-04-30",0.022],["2010-05-06",0.036],["2010-05-10",0.031],["2010-05-14",0.038],["2010-05-20",0.045],["2010-05-25",0.049],["2010-06-01",0.042],["2010-06-08",0.044],["2010-06-15",0.036],["2010-06-22",0.033],["2010-06-29",0.04],["2010-07-06",0.046],["2010-07-13",0.038],["2010-07-20",0.035],["2010-07-27",0.032],["2010-08-03",0.028],["2010-08-10",0.031],["2010-08-17",0.027],["2010-08-24",0.029],["2010-08-31",0.026],["2010-09-07",0.024],["2010-09-14",0.021],["2010-09-21",0.023],["2010-09-28",0.02],["2010-10-05",0.021],["2010-10-12",0.018],["2010-10-19",0.02],["2010-10-26",0.017],["2010-11-02",0.019],["2010-11-09",0.017],["2010-11-16",0.021],["2010-11-23",0.018],["2010-11-30",0.019],["2010-12-07",0.016],["2010-12-14",0.017],["2010-12-21",0.015],["2010-12-28",0.016],["2011-01-04",0.015],["2011-01-11",0.017],["2011-01-18",0.014],["2011-01-25",0.016],["2011-02-01",0.014],["2011-02-08",0.013],["2011-02-15",0.015],["2011-02-22",0.019],["2011-03-01",0.018],["2011-03-08",0.02],["2011-03-16",0.023],["2011-03-23",0.019],["2011-03-30",0.017],["2011-04-06",0.015],["2011-04-13",0.017],["2011-04-20",0.016],["2011-04-27",0.014],["2011-05-04",0.015],["2011-05-11",0.014],["2011-05-18",0.016],["2011-05-25",0.015],["2011-06-01",0.019],["2011-06-08",0.02],["2011-06-15",0.022],["2011-06-22",0.019],["2011-06-29",0.017],["2011-07-06",0.015],["2011-07-13",0.018],["2011-07-20",0.016],["2011-07-27",0.018],["2011-08-02",0.024],["2011-08-04",0.04],["2011-08-08",0.07],["2011-08-11",0.064],["2011-08-16",0.058],["2011-08-19",0.062],["2011-08-25",0.052],["2011-08-31",0.047],["2011-09-07",0.043],["2011-09-14",0.046],["2011-09-22",0.044],["2011-09-29",0.04],["2011-10-04",0.045],["2011-10-11",0.04],["2011-10-18",0.037],["2011-10-25",0.04],["2011-11-01",0.042],["2011-11-09",0.044],["2011-11-16",0.037],["2011-11-23",0.035],["2011-11-30",0.038],["2011-12-07",0.032],["2011-12-14",0.029],["2011-12-21",0.026],["2011-12-28",0.023],["2012-01-04",0.021],["2012-01-11",0.018],["2012-01-18",0.016],["2012-01-25",0.015],["2012-02-01",0.017],["2012-02-08",0.014],["2012-02-15",0.013],["2012-02-22",0.015],["2012-02-29",0.013],["2012-03-07",0.017],["2012-03-14",0.015],["2012-03-21",0.014],["2012-03-28",0.013],["2012-04-04",0.016],["2012-04-10",0.021],["2012-04-17",0.019],["2012-04-24",0.017],["2012-05-01",0.015],["2012-05-08",0.019],["2012-05-15",0.021],["2012-05-22",0.023],["2012-06-01",0.026],["2012-06-08",0.023],["2012-06-15",0.021],["2012-06-22",0.024],["2012-06-29",0.02],["2012-07-06",0.018],["2012-07-13",0.016],["2012-07-20",0.018],["2012-07-27",0.015],["2012-08-03",0.014],["2012-08-10",0.013],["2012-08-17",0.012],["2012-08-24",0.013],["2012-08-31",0.012],["2012-09-07",0.014],["2012-09-14",0.013],["2012-09-21",0.012],["2012-09-28",0.014],["2012-10-05",0.013],["2012-10-12",0.016],["2012-10-19",0.015],["2012-10-26",0.018],["2012-11-02",0.016],["2012-11-09",0.021],["2012-11-16",0.024],["2012-11-23",0.02],["2012-11-30",0.018],["2012-12-07",0.016],["2012-12-14",0.019],["2012-12-21",0.017],["2012-12-28",0.021],["2013-01-04",0.015],["2013-01-11",0.013],["2013-01-18",0.012],["2013-01-25",0.011],["2013-02-01",0.012],["2013-02-08",0.011],["2013-02-15",0.012],["2013-02-25",0.019],["2013-03-04",0.016],["2013-03-11",0.014],["2013-03-18",0.015],["2013-03-25",0.013],["2013-04-01",0.012],["2013-04-08",0.014],["2013-04-15",0.02],["2013-04-22",0.018],["2013-04-29",0.015],["2013-05-06",0.013],["2013-05-13",0.012],["2013-05-20",0.014],["2013-05-27",0.017],["2013-06-03",0.02],["2013-06-10",0.022],["2013-06-20",0.026],["2013-06-27",0.021],["2013-07-05",0.018],["2013-07-12",0.016],["2013-07-19",0.014],["2013-07-26",0.013],["2013-08-02",0.012],["2013-08-09",0.013],["2013-08-16",0.017],["2013-08-23",0.019],["2013-08-30",0.021],["2013-09-06",0.018],["2013-09-13",0.015],["2013-09-20",0.013],["2013-09-27",0.015],["2013-10-04",0.018],["2013-10-09",0.022],["2013-10-16",0.019],["2013-10-23",0.014],["2013-10-30",0.013],["2013-11-06",0.014],["2013-11-13",0.012],["2013-11-20",0.014],["2013-11-27",0.012],["2013-12-04",0.016],["2013-12-11",0.018],["2013-12-18",0.015],["2013-12-31",0.014]];
const p3Emp = [["2007-01-03",0.0115],["2007-06-15",0.0112],["2007-07-15",0.0116],["2007-09-01",0.0125],["2007-11-01",0.0138],["2008-01-01",0.0158],["2008-03-01",0.0175],["2008-05-01",0.0192],["2008-07-01",0.0208],["2008-09-12",0.0218],["2008-09-30",0.0225],["2008-10-20",0.0262],["2008-11-15",0.0305],["2008-12-10",0.0365],["2008-12-20",0.0382],["2009-02-10",0.0385],["2009-03-10",0.0405],["2009-04-01",0.0425],["2009-05-01",0.0445],["2009-05-20",0.0452],["2010-09-01",0.0455],["2010-09-20",0.0448],["2010-10-15",0.038],["2010-12-15",0.031],["2011-02-01",0.0285],["2011-03-25",0.0245],["2011-05-15",0.022],["2011-07-25",0.021],["2011-08-08",0.022],["2011-09-01",0.0245],["2011-10-10",0.0262],["2011-11-15",0.027],["2012-05-10",0.027],["2012-06-10",0.0255],["2012-07-15",0.0238],["2013-07-15",0.0235],["2013-08-15",0.0222],["2013-10-01",0.0195],["2013-11-15",0.0165],["2013-12-31",0.0145]];
const p3Brz = [["2007-01-03",0.0105],["2007-06-15",0.0105],["2007-07-15",0.011],["2007-09-01",0.0118],["2007-11-01",0.013],["2008-01-01",0.015],["2008-03-01",0.0165],["2008-05-01",0.0182],["2008-07-01",0.0196],["2008-09-12",0.0206],["2008-09-30",0.0212],["2008-10-20",0.0245],["2008-11-15",0.0285],["2008-12-10",0.033],["2008-12-20",0.0338],["2009-02-10",0.0342],["2009-03-10",0.0362],["2009-04-01",0.0382],["2009-05-01",0.0398],["2009-05-20",0.0408],["2010-09-01",0.041],["2010-09-20",0.0405],["2010-10-15",0.0355],["2010-12-15",0.0295],["2011-02-01",0.0268],["2011-03-25",0.0232],["2011-05-15",0.0212],["2011-07-25",0.0202],["2011-08-08",0.0205],["2011-09-01",0.0228],["2011-10-10",0.0245],["2011-11-15",0.025],["2012-05-10",0.025],["2012-06-10",0.0238],["2012-07-15",0.0225],["2013-07-15",0.0222],["2013-08-15",0.021],["2013-10-01",0.0183],["2013-11-15",0.0152],["2013-12-31",0.0135]];

// ---------- Panel 4: Covid/Ukraine ----------
const p4Title = "Covid/Ukraine ('20-)";
const p4RightTicks = [0,1000,2000,3000,4000,5000,6000];
const p4Spx = [["2020-01-02",3258],["2020-01-10",3265],["2020-01-17",3330],["2020-01-24",3295],["2020-01-31",3226],["2020-02-07",3328],["2020-02-14",3380],["2020-02-19",3386],["2020-02-24",3226],["2020-02-28",2954],["2020-03-03",3003],["2020-03-06",2972],["2020-03-09",2747],["2020-03-12",2481],["2020-03-13",2711],["2020-03-16",2386],["2020-03-18",2398],["2020-03-20",2305],["2020-03-23",2237],["2020-03-26",2630],["2020-03-31",2585],["2020-04-03",2489],["2020-04-09",2790],["2020-04-17",2875],["2020-04-21",2737],["2020-04-29",2940],["2020-05-01",2831],["2020-05-08",2930],["2020-05-13",2820],["2020-05-20",2972],["2020-05-29",3044],["2020-06-08",3232],["2020-06-11",3002],["2020-06-19",3098],["2020-06-26",3009],["2020-07-02",3130],["2020-07-10",3185],["2020-07-17",3225],["2020-07-24",3216],["2020-07-31",3271],["2020-08-07",3351],["2020-08-14",3373],["2020-08-21",3397],["2020-08-28",3508],["2020-09-02",3580],["2020-09-08",3332],["2020-09-15",3401],["2020-09-23",3237],["2020-09-30",3363],["2020-10-09",3477],["2020-10-12",3534],["2020-10-21",3436],["2020-10-30",3270],["2020-11-06",3509],["2020-11-13",3585],["2020-11-20",3558],["2020-11-27",3638],["2020-12-04",3699],["2020-12-11",3663],["2020-12-18",3709],["2020-12-24",3703],["2020-12-31",3756],["2021-01-08",3824],["2021-01-15",3768],["2021-01-22",3841],["2021-01-29",3714],["2021-02-05",3886],["2021-02-12",3934],["2021-02-19",3906],["2021-02-26",3811],["2021-03-04",3768],["2021-03-12",3943],["2021-03-19",3913],["2021-03-26",3974],["2021-04-01",4020],["2021-04-09",4129],["2021-04-16",4185],["2021-04-23",4180],["2021-04-29",4211],["2021-05-07",4233],["2021-05-12",4063],["2021-05-21",4156],["2021-05-28",4204],["2021-06-04",4230],["2021-06-11",4247],["2021-06-18",4166],["2021-06-25",4281],["2021-07-02",4352],["2021-07-09",4370],["2021-07-16",4327],["2021-07-19",4258],["2021-07-23",4412],["2021-07-30",4395],["2021-08-06",4437],["2021-08-13",4468],["2021-08-19",4406],["2021-08-27",4509],["2021-09-02",4537],["2021-09-10",4459],["2021-09-17",4433],["2021-09-20",4358],["2021-09-24",4455],["2021-10-04",4300],["2021-10-08",4391],["2021-10-15",4471],["2021-10-22",4545],["2021-10-29",4605],["2021-11-05",4697],["2021-11-12",4683],["2021-11-18",4704],["2021-11-26",4595],["2021-12-01",4513],["2021-12-10",4712],["2021-12-17",4620],["2021-12-20",4568],["2021-12-29",4793],["2022-01-03",4796],["2022-01-07",4677],["2022-01-14",4663],["2022-01-21",4398],["2022-01-27",4326],["2022-02-02",4589],["2022-02-09",4587],["2022-02-14",4401],["2022-02-23",4225],["2022-03-01",4306],["2022-03-08",4170],["2022-03-14",4173],["2022-03-18",4463],["2022-03-29",4632],["2022-04-05",4525],["2022-04-14",4392],["2022-04-22",4272],["2022-04-29",4132],["2022-05-04",4300],["2022-05-11",3935],["2022-05-20",3901],["2022-05-31",4132],["2022-06-08",4116],["2022-06-13",3750],["2022-06-16",3666],["2022-06-24",3912],["2022-06-30",3785],["2022-07-08",3899],["2022-07-14",3790],["2022-07-22",3962],["2022-07-29",4130],["2022-08-05",4145],["2022-08-16",4305],["2022-08-26",4058],["2022-09-02",3924],["2022-09-12",4110],["2022-09-13",3932],["2022-09-23",3693],["2022-09-30",3586],["2022-10-04",3791],["2022-10-12",3577],["2022-10-21",3753],["2022-10-27",3807],["2022-11-03",3720],["2022-11-10",3956],["2022-11-18",3965],["2022-11-30",4080],["2022-12-05",3999],["2022-12-13",4019],["2022-12-22",3822],["2022-12-30",3839]];
const p4Fhs = [["2020-01-02",0.013],["2020-01-07",0.011],["2020-01-14",0.014],["2020-01-21",0.012],["2020-01-27",0.015],["2020-01-31",0.017],["2020-02-04",0.013],["2020-02-11",0.011],["2020-02-18",0.01],["2020-02-24",0.03],["2020-02-27",0.043],["2020-03-02",0.05],["2020-03-05",0.048],["2020-03-09",0.058],["2020-03-12",0.09],["2020-03-13",0.08],["2020-03-16",0.161],["2020-03-18",0.135],["2020-03-20",0.14],["2020-03-23",0.118],["2020-03-25",0.08],["2020-03-27",0.095],["2020-03-31",0.117],["2020-04-02",0.09],["2020-04-06",0.065],["2020-04-09",0.058],["2020-04-14",0.06],["2020-04-17",0.052],["2020-04-21",0.056],["2020-04-24",0.047],["2020-04-29",0.045],["2020-05-04",0.04],["2020-05-08",0.036],["2020-05-13",0.039],["2020-05-18",0.034],["2020-05-22",0.03],["2020-05-28",0.027],["2020-06-02",0.024],["2020-06-05",0.02],["2020-06-08",0.018],["2020-06-11",0.061],["2020-06-15",0.045],["2020-06-19",0.034],["2020-06-24",0.031],["2020-06-29",0.027],["2020-07-02",0.024],["2020-07-08",0.02],["2020-07-14",0.018],["2020-07-20",0.015],["2020-07-27",0.016],["2020-08-03",0.014],["2020-08-10",0.013],["2020-08-17",0.012],["2020-08-24",0.013],["2020-08-31",0.011],["2020-09-03",0.032],["2020-09-08",0.039],["2020-09-14",0.03],["2020-09-21",0.026],["2020-09-24",0.03],["2020-09-30",0.025],["2020-10-07",0.022],["2020-10-14",0.02],["2020-10-21",0.023],["2020-10-28",0.033],["2020-11-02",0.03],["2020-11-09",0.025],["2020-11-16",0.02],["2020-11-23",0.017],["2020-11-30",0.016],["2020-12-07",0.015],["2020-12-14",0.013],["2020-12-21",0.014],["2020-12-28",0.012],["2021-01-04",0.012],["2021-01-11",0.014],["2021-01-19",0.016],["2021-01-27",0.022],["2021-02-01",0.019],["2021-02-08",0.016],["2021-02-15",0.014],["2021-02-22",0.018],["2021-02-25",0.025],["2021-03-04",0.027],["2021-03-11",0.021],["2021-03-18",0.024],["2021-03-25",0.018],["2021-04-01",0.015],["2021-04-08",0.013],["2021-04-15",0.012],["2021-04-22",0.014],["2021-04-29",0.013],["2021-05-06",0.015],["2021-05-12",0.028],["2021-05-17",0.022],["2021-05-24",0.018],["2021-05-31",0.016],["2021-06-07",0.014],["2021-06-14",0.013],["2021-06-18",0.017],["2021-06-25",0.014],["2021-07-02",0.012],["2021-07-09",0.014],["2021-07-19",0.022],["2021-07-26",0.017],["2021-08-02",0.015],["2021-08-09",0.013],["2021-08-16",0.014],["2021-08-19",0.018],["2021-08-26",0.015],["2021-09-02",0.013],["2021-09-09",0.016],["2021-09-20",0.022],["2021-09-28",0.025],["2021-10-04",0.023],["2021-10-11",0.02],["2021-10-18",0.016],["2021-10-25",0.014],["2021-11-01",0.012],["2021-11-08",0.011],["2021-11-15",0.013],["2021-11-22",0.012],["2021-11-26",0.028],["2021-12-01",0.03],["2021-12-06",0.026],["2021-12-13",0.024],["2021-12-20",0.027],["2021-12-27",0.018],["2022-01-03",0.02],["2022-01-07",0.026],["2022-01-13",0.022],["2022-01-20",0.027],["2022-01-25",0.03],["2022-01-31",0.024],["2022-02-07",0.026],["2022-02-14",0.029],["2022-02-22",0.03],["2022-02-28",0.031],["2022-03-07",0.034],["2022-03-11",0.03],["2022-03-17",0.026],["2022-03-24",0.021],["2022-03-31",0.019],["2022-04-07",0.018],["2022-04-13",0.023],["2022-04-22",0.029],["2022-04-29",0.035],["2022-05-05",0.043],["2022-05-10",0.05],["2022-05-13",0.04],["2022-05-18",0.046],["2022-05-24",0.038],["2022-05-31",0.032],["2022-06-06",0.025],["2022-06-10",0.033],["2022-06-14",0.048],["2022-06-17",0.044],["2022-06-24",0.046],["2022-06-30",0.035],["2022-07-07",0.03],["2022-07-14",0.026],["2022-07-21",0.023],["2022-07-28",0.02],["2022-08-04",0.019],["2022-08-11",0.017],["2022-08-18",0.02],["2022-08-26",0.03],["2022-09-01",0.031],["2022-09-07",0.034],["2022-09-13",0.038],["2022-09-20",0.033],["2022-09-27",0.036],["2022-10-04",0.032],["2022-10-11",0.034],["2022-10-18",0.036],["2022-10-25",0.031],["2022-11-01",0.029],["2022-11-04",0.034],["2022-11-10",0.05],["2022-11-15",0.042],["2022-11-21",0.036],["2022-11-28",0.032],["2022-12-05",0.027],["2022-12-12",0.03],["2022-12-19",0.033],["2022-12-23",0.028],["2022-12-30",0.029]];
const p4Emp = [["2020-01-02",0.0215],["2020-02-20",0.021],["2020-03-05",0.0205],["2020-03-12",0.021],["2020-03-20",0.0235],["2020-04-05",0.026],["2020-04-20",0.0285],["2020-05-10",0.0302],["2020-06-10",0.031],["2020-09-01",0.0313],["2020-09-08",0.0322],["2020-12-31",0.032],["2021-01-15",0.0316],["2021-08-15",0.0315],["2021-08-20",0.0306],["2022-03-01",0.0306],["2022-03-15",0.0285],["2022-04-01",0.0245],["2022-04-20",0.021],["2022-05-10",0.0208],["2022-06-01",0.022],["2022-06-15",0.0228],["2022-07-15",0.0232],["2022-09-15",0.0236],["2022-09-20",0.0242],["2022-12-30",0.0243]];
const p4Brz = [["2020-01-02",0.0195],["2020-02-20",0.0192],["2020-03-05",0.0188],["2020-03-12",0.0192],["2020-03-20",0.021],["2020-04-05",0.0235],["2020-04-20",0.026],["2020-05-10",0.0272],["2020-06-10",0.0278],["2020-12-31",0.0281],["2021-01-15",0.0277],["2022-03-01",0.0275],["2022-03-15",0.026],["2022-04-01",0.0222],["2022-04-20",0.0192],["2022-05-10",0.019],["2022-06-01",0.02],["2022-07-15",0.0205],["2022-09-20",0.0215],["2022-12-30",0.022]];

// ---------- layout ----------
const panels = [
  {title: p1Title, rightTicks: p1RightTicks, rightMax: 750, spx: p1Spx, fhs: p1Fhs, emp: p1Emp, brz: p1Brz, start: "1987-01-01", end: "1990-12-31", left: 0, top: 0, width: 566, height: 360, mL: 52, mR: 37, mT: 25, mB: 42},
  {title: p2Title, rightTicks: p2RightTicks, rightMax: 2000, spx: p2Spx, fhs: p2Fhs, emp: p2Emp, brz: p2Brz, start: "2000-01-01", end: "2005-12-31", left: 566, top: 0, width: 567, height: 360, mL: 59, mR: 31, mT: 25, mB: 42},
  {title: p3Title, rightTicks: p3RightTicks, rightMax: 2500, spx: p3Spx, fhs: p3Fhs, emp: p3Emp, brz: p3Brz, start: "2007-01-01", end: "2013-12-31", left: 0, top: 360, width: 566, height: 349, mL: 52, mR: 37, mT: 18, mB: 38},
  {title: p4Title, rightTicks: p4RightTicks, rightMax: 6000, spx: p4Spx, fhs: p4Fhs, emp: p4Emp, brz: p4Brz, start: "2020-01-01", end: "2022-12-31", left: 566, top: 360, width: 567, height: 349, mL: 59, mR: 31, mT: 18, mB: 38}
];

const toRows = arr => arr.map(([d, v]) => ({date: new Date(d), v}));
const gridStyle = {stroke: "#000", strokeOpacity: 0.12, strokeWidth: 0.9};

function drawPanel(cfg) {
  const k = YMAX / cfg.rightMax;
  const start = new Date(cfg.start), end = new Date(cfg.end);
  const xTicks = d3.utcMonth.every(6).range(start, d3.utcDay.offset(end, 1));
  const rTicks = cfg.rightTicks.map(v => v * k);
  const emp = toRows(cfg.emp), brz = toRows(cfg.brz), fhs = toRows(cfg.fhs), spx = toRows(cfg.spx);
  const svg = Plot.plot({
    width: cfg.width, height: cfg.height,
    marginLeft: cfg.mL, marginRight: cfg.mR, marginTop: cfg.mT, marginBottom: cfg.mB,
    style: {fontFamily: "DejaVu Sans", fontSize: "9.5px", color: "#1a1a1a", background: "white", overflow: "visible"},
    x: {type: "utc", domain: [start, end]},
    y: {domain: [0, YMAX]},
    marks: [
      Plot.gridX(xTicks, gridStyle),
      Plot.gridY(leftTicks, gridStyle),
      Plot.gridY(rTicks, gridStyle),
      Plot.line(emp, {x: "date", y: "v", stroke: colors.emp, strokeWidth: 4.5, strokeOpacity: 0.28, clip: true}),
      Plot.line(emp, {x: "date", y: "v", stroke: colors.emp, strokeWidth: 1.3, clip: true}),
      Plot.line(brz, {x: "date", y: "v", stroke: colors.brz, strokeWidth: 4.5, strokeOpacity: 0.25, clip: true}),
      Plot.line(brz, {x: "date", y: "v", stroke: colors.brz, strokeWidth: 1.3, clip: true}),
      Plot.line(fhs, {x: "date", y: "v", stroke: colors.fhs, strokeWidth: 3.6, strokeOpacity: 0.35, clip: true}),
      Plot.line(fhs, {x: "date", y: "v", stroke: colors.fhs, strokeWidth: 1.1, strokeOpacity: 0.95, clip: true}),
      Plot.line(spx, {x: "date", y: d => d.v * k, stroke: colors.spx, strokeWidth: 1, clip: true}),
      Plot.frame({stroke: "#333", strokeWidth: 1}),
      Plot.axisY(leftTicks, {anchor: "left", tickSize: 3.5, tickPadding: 3, fontSize: 9.5, tickFormat: d3.format(".2f"), label: "RVaR estimate", labelAnchor: "center", labelArrow: "none", labelOffset: 40}),
      Plot.axisY(rTicks, {anchor: "right", tickSize: 3.5, tickPadding: 3, fontSize: 9.5, tickFormat: d => String(Math.round(d / k)), label: null}),
      Plot.axisX(xTicks, {anchor: "bottom", tickSize: 3.5, tickPadding: 7, dx: -3, lineHeight: 1.15, fontSize: 9.5, tickRotate: -30, tickFormat: d => monthNames[d.getUTCMonth()] + "\n" + d.getUTCFullYear(), label: null}),
      Plot.text([cfg.title], {frameAnchor: "top", dy: -9, fontSize: 11.5, fill: "#1a1a1a"})
    ]
  });
  const wrap = document.createElement("div");
  wrap.className = "panel";
  wrap.style.left = cfg.left + "px";
  wrap.style.top = cfg.top + "px";
  wrap.style.width = cfg.width + "px";
  wrap.style.height = cfg.height + "px";
  wrap.appendChild(svg);

  // legend (upper right inside the plot)
  const lw = 106, lh = 61;
  const plotRight = cfg.width - cfg.mR;
  const leg = document.createElement("div");
  leg.className = "legend";
  leg.style.left = (plotRight - 5 - lw) + "px";
  leg.style.top = (cfg.mT + 4) + "px";
  leg.style.width = lw + "px";
  leg.style.height = lh + "px";
  const legendStyles = [
    {c: colors.emp, w: 2.2, o: 0.7},
    {c: colors.brz, w: 2.0, o: 0.75},
    {c: colors.fhs, w: 1.6, o: 0.8},
    {c: colors.spx, w: 1.1, o: 1}
  ];
  seriesNames.forEach((name, i) => {
    const row = document.createElement("div");
    row.className = "row";
    row.style.top = (3 + i * 14.3) + "px";
    row.style.width = "100%";
    const s = legendStyles[i];
    row.innerHTML = `<svg width="24" height="10"><line x1="0" x2="21" y1="5" y2="5" stroke="${s.c}" stroke-width="${s.w}" stroke-opacity="${s.o}"/></svg><span>${name.replace("&", "&amp;")}</span>`;
    leg.appendChild(row);
  });
  wrap.appendChild(leg);
  document.getElementById("root").appendChild(wrap);
}

panels.forEach(drawPanel);
</script></body></html>
